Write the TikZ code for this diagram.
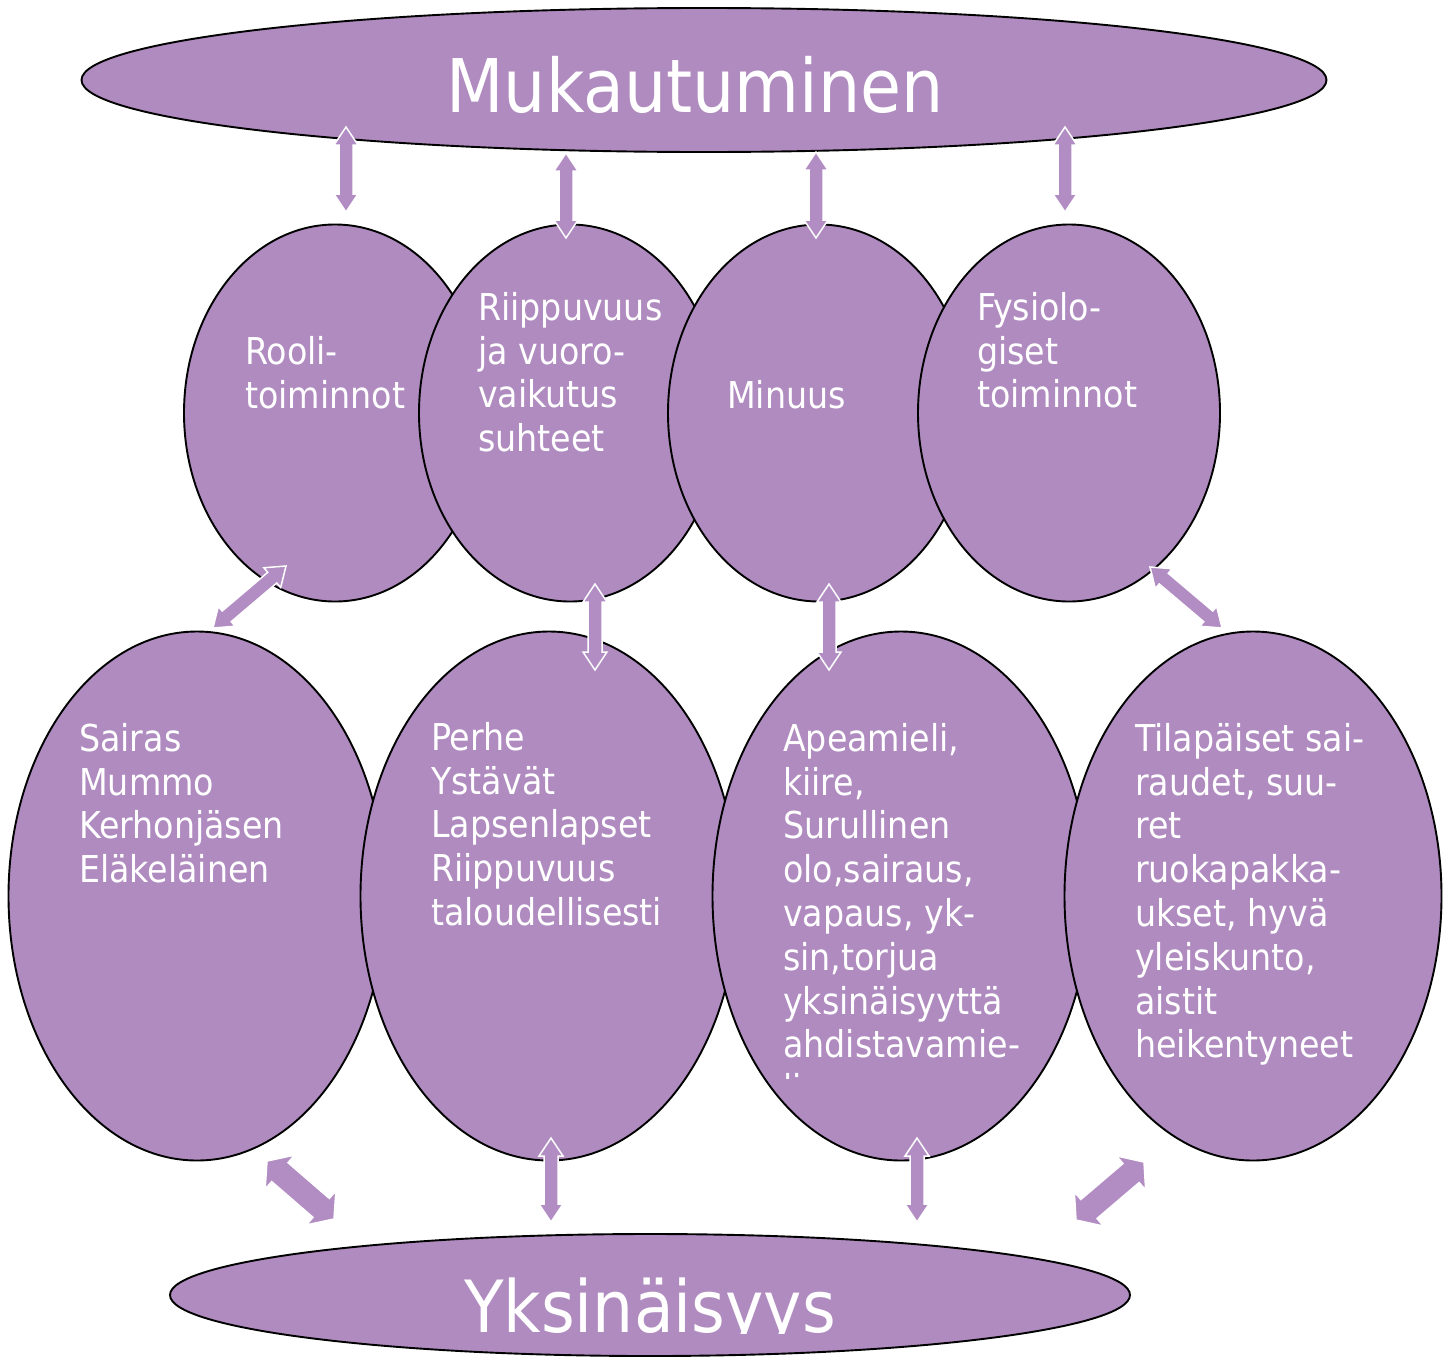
\documentclass[tikz,border=0pt]{standalone}
\usepackage{fontspec}
\setmainfont{DejaVu Sans Condensed}
\usetikzlibrary{shapes.geometric,calc}
\definecolor{lila}{RGB}{176,139,192}
\definecolor{lilaarrow}{RGB}{178,141,195}
\tikzset{
  oval/.style={ellipse, draw=black, line width=1.9pt, fill=lila, inner sep=0pt},
  bodytext/.style={anchor=north west, inner sep=0pt, align=left, text=white,
    font=\fontsize{37}{43.8}\selectfont},
  titletext/.style={anchor=base, inner sep=0pt, text=white},
  arrowfill/.style={fill=lilaarrow, draw=white, line width=1.5pt, line join=miter}
}
\newcommand\blockarrow[5]{% #1 A, #2 B, #3 shaft half, #4 head half, #5 head length
  \coordinate (#1p) at ($(#1)!#5!(#2)$);
  \coordinate (#2p) at ($(#2)!#5!(#1)$);
  \path[arrowfill] (#1) -- ($(#1p)!#4!90:(#2)$) -- ($(#1p)!#3!90:(#2)$)
    -- ($(#2p)!#3!-90:(#1)$) -- ($(#2p)!#4!-90:(#1)$) -- (#2)
    -- ($(#2p)!#4!90:(#1)$) -- ($(#2p)!#3!90:(#1)$)
    -- ($(#1p)!#3!-90:(#2)$) -- ($(#1p)!#4!-90:(#2)$) -- cycle;
}
\begin{document}
\begin{tikzpicture}[x=1pt,y=-1pt]
\useasboundingbox (0,0) rectangle (1453,1357);

% top ellipse
\node[oval, minimum width=1245pt, minimum height=144pt] (muk) at (704,80) {};
\node[titletext, font=\fontsize{74}{88}\selectfont] (mukt) at (695,112) {Mukautuminen};

% middle row
\node[oval, minimum width=302pt, minimum height=377pt] (rooli) at (335,413) {};
\node[oval, minimum width=302pt, minimum height=377pt] (riip) at (570,413) {};
\node[oval, minimum width=302pt, minimum height=377pt] (minuus) at (819,413) {};
\node[oval, minimum width=302pt, minimum height=377pt] (fysio) at (1069,413) {};

\node[bodytext] (roolit) at (245,333.5) {\strut Rooli-\\toiminnot};
\node[bodytext] (riipt) at (478,289.5) {\strut Riippuvuus\\ja vuoro-\\vaikutus\\suhteet};
\node[bodytext] (minuust) at (727,377.5) {\strut Minuus};
\node[bodytext] (fysiot) at (977,289.5) {\strut Fysiolo-\\giset\\toiminnot};

% bottom row
\node[oval, minimum width=377pt, minimum height=529pt] (sairas) at (197,896) {};
\node[oval, minimum width=377pt, minimum height=529pt] (perhe) at (549,896) {};
\node[oval, minimum width=377pt, minimum height=529pt] (apea) at (901,896) {};
\node[oval, minimum width=377pt, minimum height=529pt] (tila) at (1253,896) {};

\node[bodytext] (sairast) at (79,720.5) {\strut Sairas\\Mummo\\Kerhonjäsen\\Eläkeläinen};
\node[bodytext] (perhet) at (431,719.5) {\strut Perhe\\Ystävät\\Lapsenlapset\\Riippuvuus\\taloudellisesti};
\begin{scope}
  \clip (700,600) rectangle (1100,1078);
  \node[bodytext] (apeat) at (783,720.5) {\strut Apeamieli,\\kiire,\\Surullinen\\olo,sairaus,\\vapaus, yk-\\sin,torjua\\yksinäisyyttä\\ahdistavamie-\\li};
\end{scope}
\node[bodytext] (tilat) at (1135,720.5) {\strut Tilapäiset sai-\\raudet, suu-\\ret\\ruokapakka-\\ukset, hyvä\\yleiskunto,\\aistit\\heikentyneet};

% bottom ellipse
\node[oval, minimum width=960pt, minimum height=122pt] (yks) at (650,1295) {};
\begin{scope}
  \clip (0,0) rectangle (1453,1333);
  \node[titletext, font=\fontsize{72}{85}\selectfont] (ykst) at (650,1332) {Yksinäisyys};
\end{scope}

% arrow end points
\coordinate (a1s) at (346,127);  \coordinate (a1e) at (346,212);
\coordinate (a2s) at (566,153);  \coordinate (a2e) at (566,238);
\coordinate (a3s) at (816,152);  \coordinate (a3e) at (816,238);
\coordinate (a4s) at (1065,127); \coordinate (a4e) at (1065,212);
\coordinate (m1s) at (213,628);  \coordinate (m1e) at (286,566);
\coordinate (m2s) at (595,584);  \coordinate (m2e) at (595,670);
\coordinate (m3s) at (829,584);  \coordinate (m3e) at (829,670);
\coordinate (m4s) at (1150,567); \coordinate (m4e) at (1222,628);
\coordinate (b1s) at (267,1161); \coordinate (b1e) at (334,1219);
\coordinate (b2s) at (551,1138); \coordinate (b2e) at (551,1222);
\coordinate (b3s) at (917,1138); \coordinate (b3e) at (917,1222);
\coordinate (b4s) at (1144,1162);\coordinate (b4e) at (1076,1220);

\blockarrow{a1s}{a1e}{7pt}{12pt}{18pt}
\blockarrow{a2s}{a2e}{7pt}{12pt}{18pt}
\blockarrow{a3s}{a3e}{7pt}{12pt}{18pt}
\blockarrow{a4s}{a4e}{7pt}{12pt}{18pt}
\blockarrow{m1s}{m1e}{7pt}{13pt}{18pt}
\blockarrow{m2s}{m2e}{7pt}{12pt}{18pt}
\blockarrow{m3s}{m3e}{7pt}{12pt}{18pt}
\blockarrow{m4s}{m4e}{7pt}{13pt}{18pt}
\blockarrow{b1s}{b1e}{12.5pt}{22.5pt}{17pt}
\blockarrow{b2s}{b2e}{7pt}{12pt}{18pt}
\blockarrow{b3s}{b3e}{7pt}{12pt}{18pt}
\blockarrow{b4s}{b4e}{12.5pt}{22.5pt}{17pt}
\end{tikzpicture}
\end{document}
